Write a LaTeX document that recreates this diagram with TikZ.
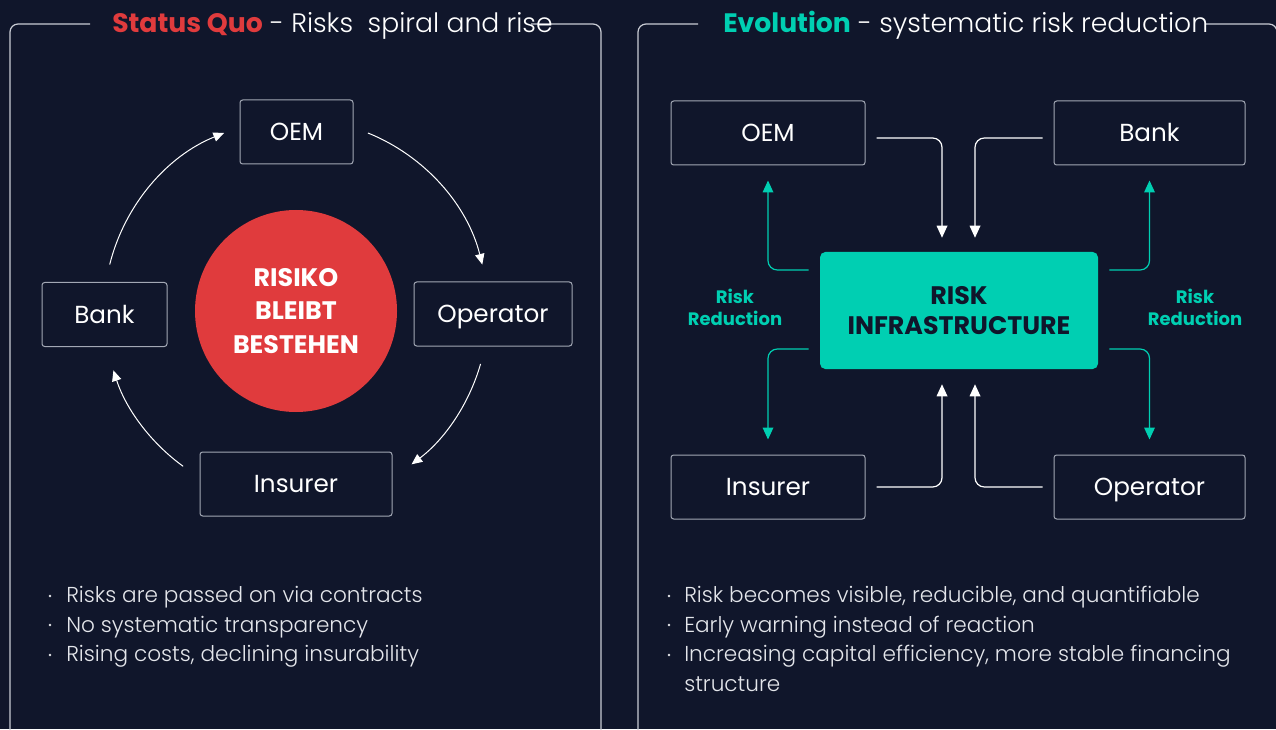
\documentclass[tikz,border=0pt]{standalone}
\usepackage{fontspec}
\setmainfont{Poppins}
\newfontfamily\lightfont{Poppins Light}
\usetikzlibrary{arrows.meta,calc}

\definecolor{bgnavy}{HTML}{10162B}
\definecolor{quored}{HTML}{E03B3D}
\definecolor{evoteal}{HTML}{00CFB2}
\definecolor{framegray}{HTML}{C9CCD4}
\definecolor{boxgray}{HTML}{A3A8B5}
\definecolor{bodygray}{HTML}{E4E6EB}

\tikzset{
  panel/.style={draw=framegray, line width=0.9pt, rounded corners=6pt},
  actor/.style={draw=boxgray, line width=0.75pt, rounded corners=2pt, fill=bgnavy,
    text=white, font=\fontsize{18.5}{22}\selectfont, inner sep=0pt,
    text height=13pt, text depth=0pt, minimum height=48pt},
  loopline/.style={draw=white, line width=0.75pt, -{Triangle[length=8pt,width=7pt]}},
  feed/.style={draw=white, line width=0.9pt, rounded corners=7pt, -{Triangle[length=9pt,width=8pt]}},
  relief/.style={draw=evoteal, line width=0.9pt, rounded corners=7pt, -{Triangle[length=9pt,width=8pt]}},
  heading/.style={anchor=base west, text=white, inner sep=0pt, font=\lightfont\fontsize{20}{24}\selectfont},
  bullet/.style={anchor=base west, text=bodygray, inner sep=0pt, font=\lightfont\fontsize{16.2}{22}\selectfont},
  reduction/.style={text=evoteal, align=center, font=\bfseries\fontsize{13.5}{16}\selectfont}
}

\begin{document}
\begin{tikzpicture}[x=0.75pt, y=0.75pt]
    \useasboundingbox (0,0) rectangle (1276,729);
    \fill[bgnavy] (0,0) rectangle (1276,729);

    % Frames
    \draw[panel] (90,705) -| (10,-10);
    \draw[panel] (531,705) -| (601,-10);
    \draw[panel] (698,705) -| (638,-10);
    \draw[panel] (1206,705) -| (1277,-10);

    % Titles
    \node[heading] (quoTitle) at (112,696) {{\normalfont\bfseries\color{quored}Status Quo} - Risks~~spiral and rise};
    \node[heading] (evoTitle) at (723,696) {{\normalfont\bfseries\color{evoteal}Evolution} - systematic risk reduction};

    % Status quo: ring around the risk
    \node[circle, fill=quored, minimum size=151.5pt, inner sep=0pt, text=white, align=center,
      font=\bfseries\fontsize{19}{25}\selectfont] (spiral) at (296,418) {RISIKO\\BLEIBT\\BESTEHEN};
    \node[actor, minimum width=84.75pt] (lOEM) at (296.5,597) {OEM};
    \node[actor, minimum width=93.75pt] (lBank) at (104.5,414.5) {Bank};
    \node[actor, minimum width=118.5pt] (lOperator) at (493,415) {Operator};
    \node[actor, minimum width=144pt] (lInsurer) at (296,245) {Insurer};

    \draw[loopline] (spiral.center) ++(166:192) arc[start angle=166, end angle=112, radius=192];
    \draw[loopline] (spiral.center) ++(68:192) arc[start angle=68, end angle=14, radius=192];
    \draw[loopline] (spiral.center) ++(-16:192) arc[start angle=-16, end angle=-53, radius=192];
    \draw[loopline] (spiral.center) ++(-126:192) arc[start angle=-126, end angle=-162, radius=192];

    % Evolution: hub and spokes
    \node[fill=evoteal, rounded corners=4pt, minimum width=208.5pt, minimum height=87.75pt,
      inner sep=0pt, text=bgnavy, align=center, font=\bfseries\fontsize{19}{22}\selectfont]
      (hub) at (959,418.5) {RISK\\INFRASTRUCTURE};
    \node[actor, minimum width=145.5pt] (rOEM) at (768,596) {OEM};
    \node[actor, minimum width=143.25pt] (rBank) at (1149.5,596) {Bank};
    \node[actor, minimum width=145.5pt] (rInsurer) at (768,242) {Insurer};
    \node[actor, minimum width=143.25pt] (rOperator) at (1149.5,242) {Operator};

    \draw[feed] ($(rOEM.east)+(11,-5)$) -| ($(hub.north)+(-17,14)$);
    \draw[feed] ($(rBank.west)+(-11,-5)$) -| ($(hub.north)+(16,14)$);
    \draw[feed] ($(rInsurer.east)+(11,0)$) -| ($(hub.south)+(-17,-15)$);
    \draw[feed] ($(rOperator.west)+(-11,0)$) -| ($(hub.south)+(16,-15)$);

    \draw[relief] ($(hub.west)+(-11,40.5)$) -| ($(rOEM.south)+(0,-15)$);
    \draw[relief] ($(hub.east)+(11,40.5)$) -| ($(rBank.south)+(0,-15)$);
    \draw[relief] ($(hub.west)+(-11,-38.5)$) -| ($(rInsurer.north)+(0,15)$);
    \draw[relief] ($(hub.east)+(11,-38.5)$) -| ($(rOperator.north)+(0,15)$);

    \node[reduction] (leftCut) at (735,421.5) {Risk\\Reduction};
    \node[reduction] (rightCut) at (1195,421.5) {Risk\\Reduction};

    % Bullet lists
    \fill[bodygray] (50,133) circle (1.3);
    \fill[bodygray] (50,104) circle (1.3);
    \fill[bodygray] (50,74) circle (1.3);
    \node[bullet] (quoA) at (66,127) {Risks are passed on via contracts};
    \node[bullet] (quoB) at (66,97) {No systematic transparency};
    \node[bullet] (quoC) at (66,68) {Rising costs, declining insurability};

    \fill[bodygray] (669,133) circle (1.3);
    \fill[bodygray] (669,104) circle (1.3);
    \fill[bodygray] (669,74) circle (1.3);
    \node[bullet] (evoA) at (684,127) {Risk becomes visible, reducible, and quantifiable};
    \node[bullet] (evoB) at (684,97) {Early warning instead of reaction};
    \node[bullet] (evoC) at (684,68) {Increasing capital efficiency, more stable financing};
    \node[bullet] (evoD) at (684,38) {structure};

\end{tikzpicture}
\end{document}
